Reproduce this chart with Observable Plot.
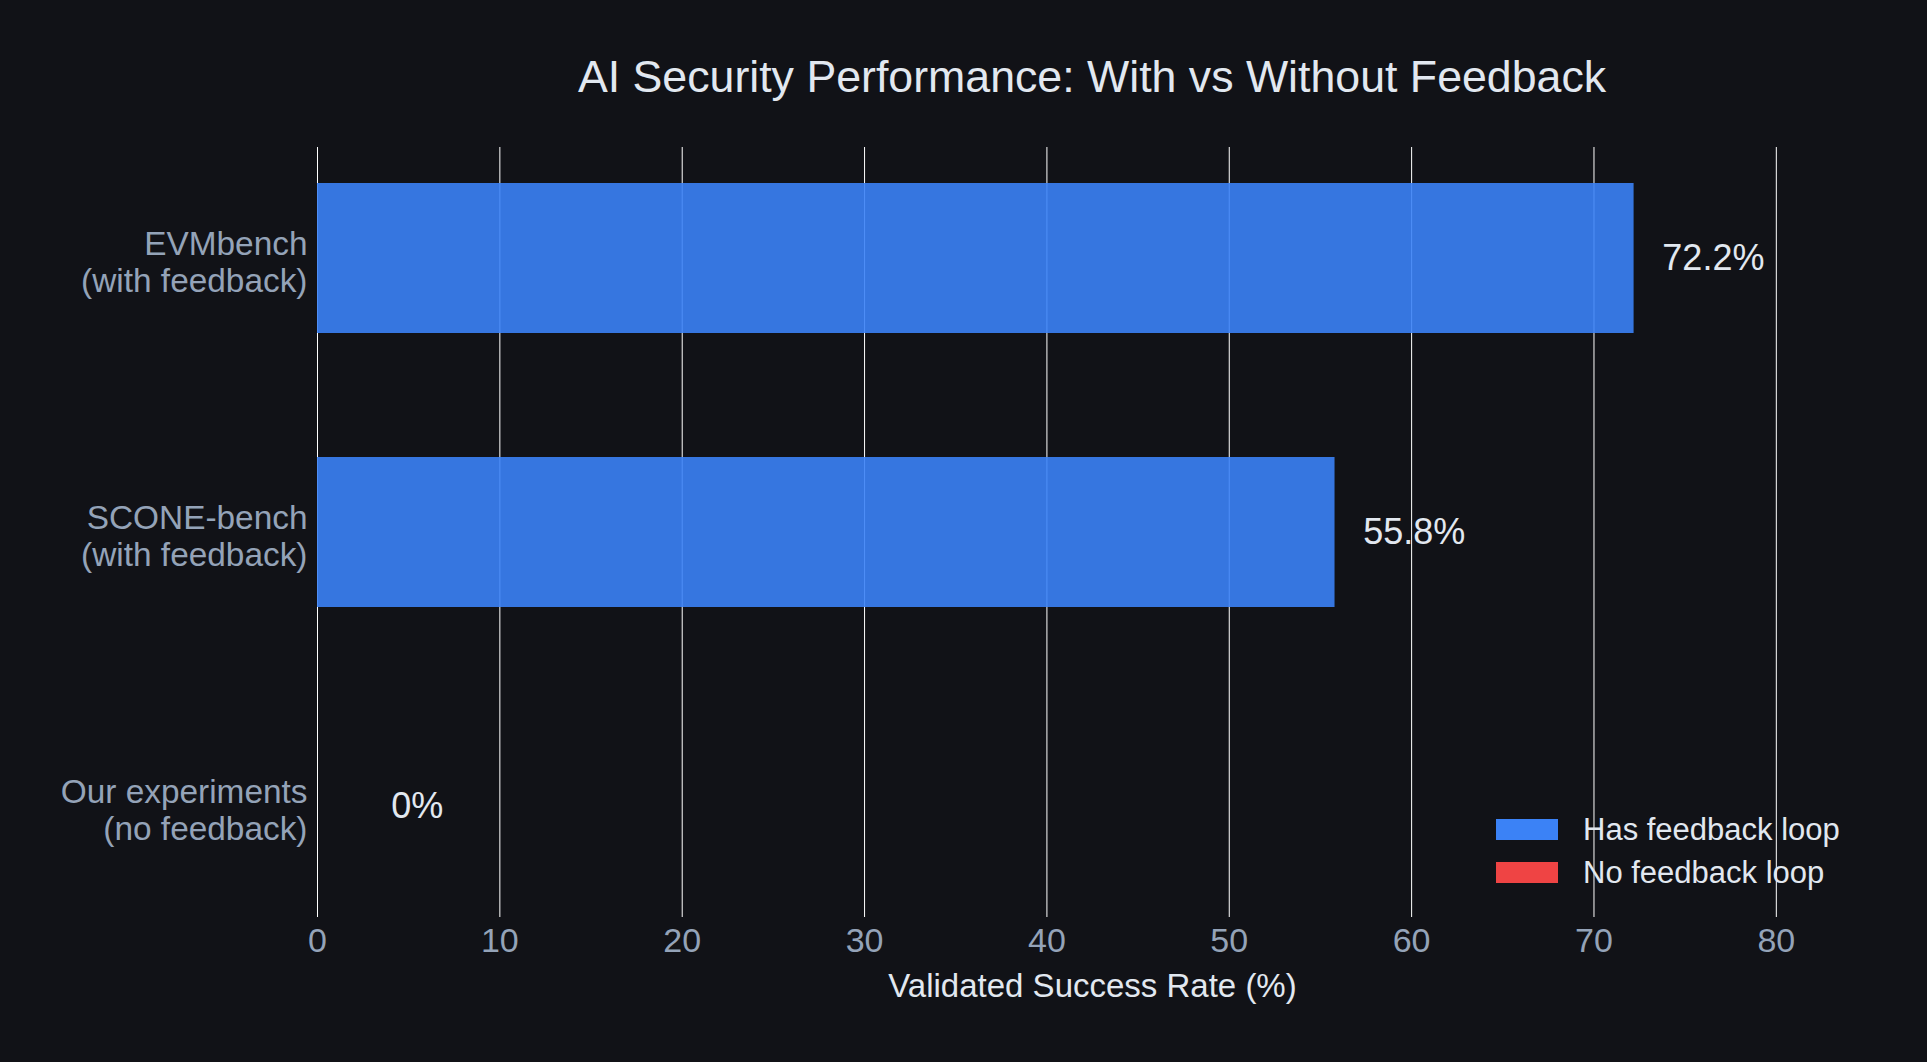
<!DOCTYPE html>
<html>
<head>
<meta charset="utf-8">
<script src="https://cdn.jsdelivr.net/npm/d3@7"></script>
<script src="https://cdn.jsdelivr.net/npm/@observablehq/plot@0.6"></script>
<style>
  html, body { margin: 0; padding: 0; background: #111217; }
  #figure { position: relative; width: 1927px; height: 1062px; background: #111217;
            font-family: "Liberation Sans", Arial, Helvetica, sans-serif; overflow: hidden; }
  #title { box-sizing: border-box; height: 120px; padding-top: 55px; margin-left: 317px; width: 1550px;
           text-align: center; font-size: 44.7px; line-height: 44px; color: #e2e8f0; white-space: nowrap; }
  #chart svg { display: block; }
  .legend-swatch { position: absolute; width: 62px; height: 21px; }
  .legend-label { position: absolute; font-size: 31px; line-height: 30px; color: #e2e8f0; white-space: nowrap; }
</style>
</head>
<body>
<div id="figure">
  <div id="title">AI Security Performance: With vs Without Feedback</div>
  <div id="chart"></div>
  <div id="legend"></div>
</div>
<script>
// Benchmarks and their validated success rates (%)
const categories = ["EVMbench\n(with feedback)", "SCONE-bench\n(with feedback)", "Our experiments\n(no feedback)"];
const rates = [72.2, 55.8, 0];
const loopGroups = ["Has feedback loop", "Has feedback loop", "No feedback loop"];

// Legend groups and colours
const groupNames = ["Has feedback loop", "No feedback loop"];
const groupColors = ["#3b82f6", "#ef4444"];

// Axis ticks
const xTicks = [0, 10, 20, 30, 40, 50, 60, 70, 80];
const xLabel = "Validated Success Rate (%)";

const rows = categories.map((name, i) => ({name, value: rates[i], group: loopGroups[i]}));

const fontFamily = '"Liberation Sans", Arial, Helvetica, sans-serif';

const chart = Plot.plot({
  width: 1927,
  height: 942,
  marginLeft: 317,
  marginRight: 60,
  marginTop: 27,
  marginBottom: 145,
  style: {background: "transparent", fontFamily, overflow: "visible"},
  x: {domain: [0, 85], axis: null},
  y: {domain: categories, paddingInner: 0.4526, paddingOuter: 0.131, axis: null},
  color: {domain: groupNames, range: groupColors},
  marks: [
    Plot.ruleX(xTicks, {stroke: "#ffffff", strokeOpacity: 1, strokeWidth: 1}),
    Plot.barX(rows, {y: "name", x: "value", fill: "group", fillOpacity: 0.9}),
    Plot.axisX({ticks: xTicks, tickSize: 0, tickPadding: 10, fontSize: 34, color: "#94a3b8", label: null}),
    Plot.axisY({tickSize: 0, tickPadding: 10, fontSize: 33.4, color: "#94a3b8", lineHeight: 1.11, dy: 3, label: null}),
    Plot.text(rows, {
      y: "name",
      x: d => d.value > 0 ? d.value + 1.55 : 4.05,
      text: d => `${d.value}%`,
      textAnchor: "start",
      fontSize: 36,
      fill: "#e2e8f0"
    }),
    Plot.text([xLabel], {frameAnchor: "bottom", dy: 79, fontSize: 33, fill: "#e2e8f0"})
  ]
});
document.getElementById("chart").appendChild(chart);

// Legend placed inside the lower-right of the plotting area
const legend = document.getElementById("legend");
groupNames.forEach((name, i) => {
  const top = 819 + i * 43;
  const sw = document.createElement("div");
  sw.className = "legend-swatch";
  sw.style.left = "1496px";
  sw.style.top = top + "px";
  sw.style.background = groupColors[i];
  legend.appendChild(sw);
  const lab = document.createElement("div");
  lab.className = "legend-label";
  lab.style.left = "1583px";
  lab.style.top = (top - 4) + "px";
  lab.textContent = name;
  legend.appendChild(lab);
});
</script>
</body>
</html>
